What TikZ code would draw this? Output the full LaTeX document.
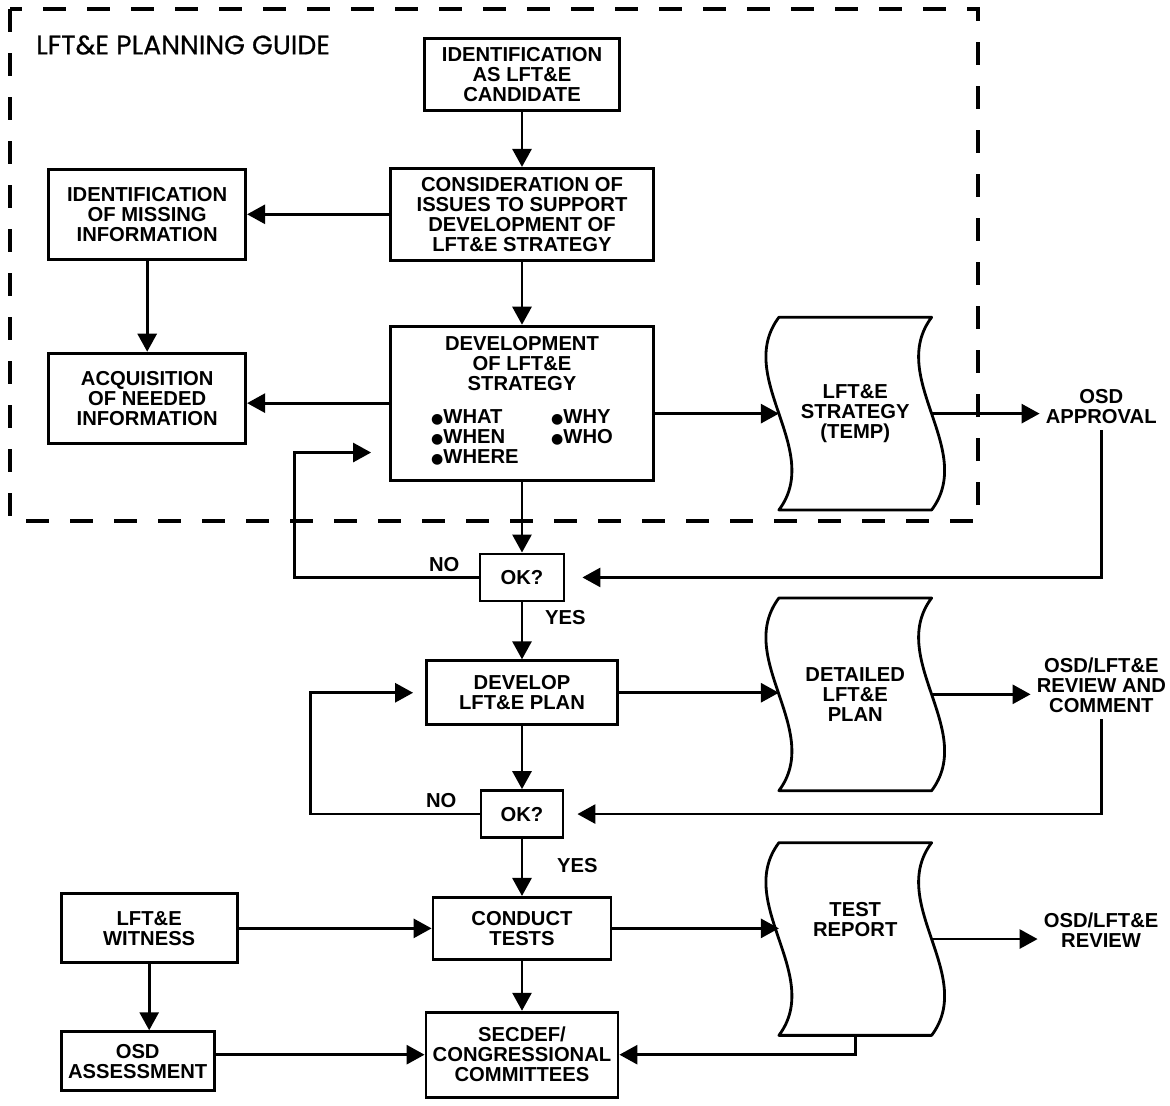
\documentclass[tikz,border=0pt]{standalone}
\usepackage{fontspec}
\setmainfont{Liberation Sans}
\newfontfamily\titlefont{Poppins}[FakeBold=0.6]
\newfontfamily\bulletfont{DejaVu Sans}
\usepackage{tikz}
\usetikzlibrary{positioning,arrows.meta}

\newcommand\boxfont{\fontsize{11.5}{11.4}\selectfont\bfseries}
\newcommand\dotmark{{\bulletfont\fontsize{8}{11.4}\selectfont ●}}

\begin{document}
\begin{tikzpicture}[node distance=1cm]

    % Define styles
    \tikzstyle{box} = [rectangle, draw, line width=1.6pt, align=center, font=\boxfont, inner sep=2pt]
    \tikzstyle{doc} = [rectangle, align=center, font=\boxfont, minimum width=3.04cm, minimum height=3.84cm]
    \tikzstyle{note} = [align=center, font=\boxfont]
    \tikzstyle{flow} = [line width=1.6pt, -{Triangle[length=0.36cm, width=0.38cm]}]
    \tikzstyle{outline} = [line width=1.6pt, line join=round]
    \tikzstyle{frame} = [line width=1.8pt, dash pattern=on 0.46cm off 0.42cm]

    \useasboundingbox (0,0) rectangle (23.4,-22.1);

    % Planning guide frame
    \draw [frame] (0.2,-0.18) rectangle (19.56,-10.42);
    \node [anchor=west, font=\titlefont\fontsize{15.2}{15}\selectfont] (guide) at (0.6,-0.9) {LFT\&E PLANNING GUIDE};

    % Main column
    \node [box, minimum width=3.9cm, minimum height=1.44cm] (ident) at (10.44,-1.49) {IDENTIFICATION\\AS LFT\&E\\CANDIDATE};
    \node [box, minimum width=5.26cm, minimum height=1.84cm, below=1.1cm of ident] (consid) {CONSIDERATION OF\\ISSUES TO SUPPORT\\DEVELOPMENT OF\\LFT\&E STRATEGY};
    \node [box, minimum width=5.26cm, minimum height=3.08cm, below=1.26cm of consid] (devstrat) {DEVELOPMENT\\OF LFT\&E\\STRATEGY\\[0.26cm]
        \begin{tabular}[t]{@{}p{2.4cm}@{}l@{}}\dotmark WHAT & \dotmark WHY\\ \dotmark WHEN & \dotmark WHO\\ \dotmark WHERE & \end{tabular}};
    \node [box, minimum width=1.68cm, minimum height=0.94cm, below=1.42cm of devstrat] (ok1) {OK?};
    \node [box, minimum width=3.82cm, minimum height=1.28cm, below=1.14cm of ok1] (devplan) {DEVELOP\\LFT\&E PLAN};
    \node [box, minimum width=1.64cm, minimum height=0.94cm, below=1.26cm of devplan] (ok2) {OK?};
    \node [box, minimum width=3.56cm, minimum height=1.24cm, below=1.14cm of ok2] (conduct) {CONDUCT\\TESTS};
    \node [box, minimum width=3.84cm, minimum height=1.7cm, below=1cm of conduct] (secdef) {SECDEF/\\CONGRESSIONAL\\COMMITTEES};

    % Information boxes
    \node [box, minimum width=3.94cm, minimum height=1.8cm, left=2.84cm of consid] (missing) {IDENTIFICATION\\OF MISSING\\INFORMATION};
    \node [box, minimum width=3.94cm, minimum height=1.8cm, below=1.82cm of missing] (acquire) {ACQUISITION\\OF NEEDED\\INFORMATION};

    % Witness and assessment
    \node [box, minimum width=3.52cm, minimum height=1.38cm, left=3.86cm of conduct] (witness) {LFT\&E\\WITNESS};
    \node [box, minimum width=3.06cm, minimum height=1.18cm, below=1.32cm of witness.south west, anchor=north west] (assess) {OSD\\ASSESSMENT};

    % Documents
    \node [doc, right=2.48cm of devstrat, yshift=-0.21cm] (strat) {LFT\&E\\STRATEGY\\(TEMP)};
    \node [doc, below=1.76cm of strat] (plan) {DETAILED\\LFT\&E\\PLAN};
    \node [doc, below=1.04cm of plan, text depth=0.8cm] (report) {TEST\\REPORT};

    % OSD reviews
    \node [note, right=2.16cm of strat, yshift=0.14cm] (approval) {OSD\\APPROVAL};
    \node [note, right=1.98cm of plan, yshift=0.18cm] (review) {OSD/LFT\&E\\REVIEW AND\\COMMENT};
    \node [note, right=2.12cm of report, yshift=0.18cm] (finalrev) {OSD/LFT\&E\\REVIEW};

    % Decisions
    \node [note, anchor=south east] (no1) at ([xshift=-0.26cm]ok1.west) {NO};
    \node [note, anchor=north west] (yes1) at ([xshift=0.34cm, yshift=-0.04cm]ok1.south) {YES};
    \node [note, anchor=south east] (no2) at ([xshift=-0.34cm]ok2.west) {NO};
    \node [note, anchor=north west] (yes2) at ([xshift=0.58cm, yshift=-0.26cm]ok2.south) {YES};

    % Document outlines
    \foreach \docname in {strat, plan, report}
        \draw [outline] (\docname.north west) .. controls ([shift={(-0.9,-1.2)}]\docname.north west) and ([shift={(0.9,1.2)}]\docname.south west) .. (\docname.south west)
            -- (\docname.south east) .. controls ([shift={(0.9,1.2)}]\docname.south east) and ([shift={(-0.9,-1.2)}]\docname.north east) .. (\docname.north east) -- cycle;

    % Flows
    \draw [flow] (ident) -- (consid);
    \draw [flow] (consid) -- (missing);
    \draw [flow] (missing) -- (acquire);
    \draw [flow] (consid) -- (devstrat);
    \draw [flow] (devstrat.west) -- (devstrat.west -| acquire.east);
    \draw [flow] (devstrat.east |- strat.west) -- (strat.west);
    \draw [flow] (strat.east) -- (strat.east -| approval.west);
    \draw [flow, shorten >=0.34cm] (approval.south) |- (ok1.east);
    \draw [flow] (devstrat) -- (ok1);
    \draw [flow, shorten >=0.36cm] (ok1.west) -| ([xshift=-1.9cm, yshift=0.58cm]devstrat.south west) -- ([yshift=0.58cm]devstrat.south west);
    \draw [flow] (ok1) -- (devplan);
    \draw [flow] (devplan.east) -- (devplan.east -| plan.west);
    \draw [flow] (plan.east) -- (plan.east -| review.west);
    \draw [flow, shorten >=0.26cm] (review.south) |- (ok2.east);
    \draw [flow] (devplan) -- (ok2);
    \draw [flow, shorten >=0.24cm] (ok2.west) -| ([xshift=-2.3cm]devplan.west) -- (devplan.west);
    \draw [flow] (ok2) -- (conduct);
    \draw [flow] (witness) -- (conduct);
    \draw [flow] (conduct.east) -- (conduct.east -| report.west);
    \draw [flow] (report.east) -- (report.east -| finalrev.west);
    \draw [flow] (witness.south) -- (witness.south |- assess.north);
    \draw [flow] (assess.east |- secdef.west) -- (secdef.west);
    \draw [flow] (conduct) -- (secdef);
    \draw [flow] (report.south) |- (secdef.east);

\end{tikzpicture}
\end{document}
